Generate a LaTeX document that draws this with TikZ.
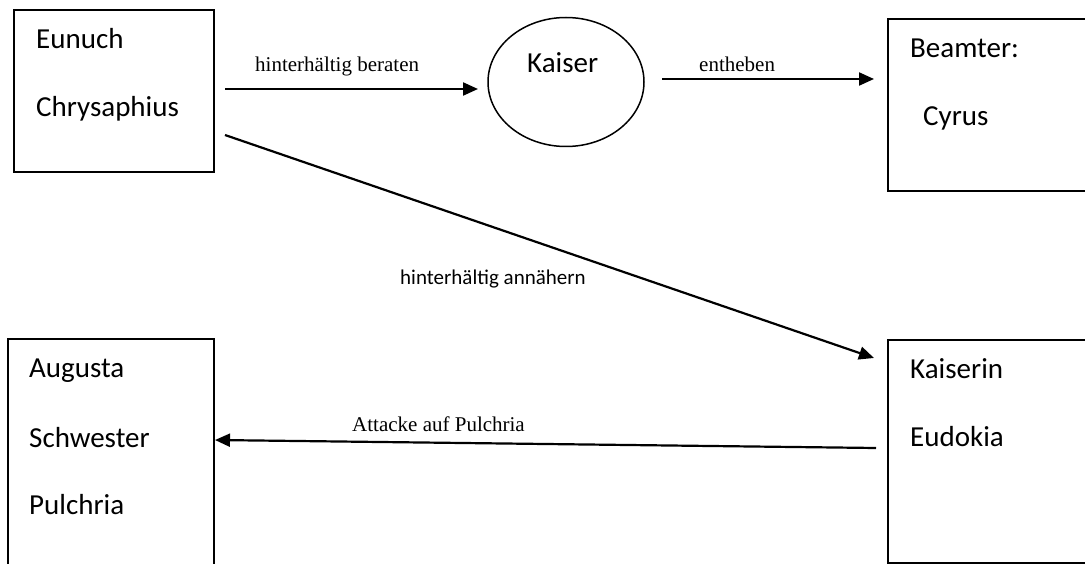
\documentclass[tikz,border=0pt]{standalone}
\usepackage{fontspec}
\setmainfont{Carlito}
\newfontfamily\seriffont{Liberation Serif}
\usetikzlibrary{arrows.meta,shapes.geometric}
\tikzset{
  box/.style={draw, line width=1.5pt, rectangle, inner sep=0pt},
  oval/.style={draw, line width=1.5pt, ellipse, inner sep=0pt},
  big/.style={font=\fontsize{29}{35}\selectfont, anchor=base west, inner sep=0pt},
  small/.style={font=\fontsize{21}{25}\selectfont, anchor=base west, inner sep=0pt},
  smallserif/.style={font=\seriffont\fontsize{21}{25}\selectfont, anchor=base west, inner sep=0pt},
  conn/.style={line width=2.2pt, -{Triangle[length=15pt,width=13pt]}}
}
\begin{document}
\begin{tikzpicture}[x=1pt,y=-1pt]
\useasboundingbox (0,0) rectangle (1085,564);
% boxes
\node[box, minimum width=200pt, minimum height=162pt] (eunuchbox) at (114,91) {};
\node[oval, minimum width=156pt, minimum height=129pt] (kaiser) at (566,82) {};
\node[box, minimum width=222pt, minimum height=172pt] (beamterbox) at (999,105) {};
\node[box, minimum width=206pt, minimum height=240pt] (augustabox) at (111,459) {};
\node[box, minimum width=222pt, minimum height=223pt] (kaiserinbox) at (999,451.5) {};
% texts
\node[big] (t1) at (36,49) {Eunuch};
\node[big] (t2) at (36,117) {Chrysaphius};
\node[big] (t3) at (527,73) {Kaiser};
\node[big] (t4) at (910,58) {Beamter:};
\node[big] (t5) at (923,126) {Cyrus};
\node[big] (t6) at (29,377) {Augusta};
\node[big] (t7) at (29,447) {Schwester};
\node[big] (t8) at (29,514) {Pulchria};
\node[big] (t9) at (910,378) {Kaiserin};
\node[big] (t10) at (910,446) {Eudokia};
% labels
\node[smallserif] (l1) at (255,72) {hinterhältig beraten};
\node[smallserif] (l2) at (699,72) {entheben};
\node[small] (l3) at (400,285) {hinterhältig annähern};
\node[smallserif] (l4) at (352,431) {Attacke auf Pulchria};
% connector ends
\coordinate (a1s) at (225,89);
\coordinate (a1e) at (478,89);
\coordinate (a2s) at (662,79);
\coordinate (a2e) at (874,79);
\coordinate (a3s) at (225,135);
\coordinate (a3e) at (874,358);
\coordinate (a4s) at (876,448);
\coordinate (a4e) at (215,440);
\draw[conn] (a1s) -- (a1e);
\draw[conn] (a2s) -- (a2e);
\draw[conn] (a3s) -- (a3e);
\draw[conn] (a4s) -- (a4e);
\end{tikzpicture}
\end{document}
